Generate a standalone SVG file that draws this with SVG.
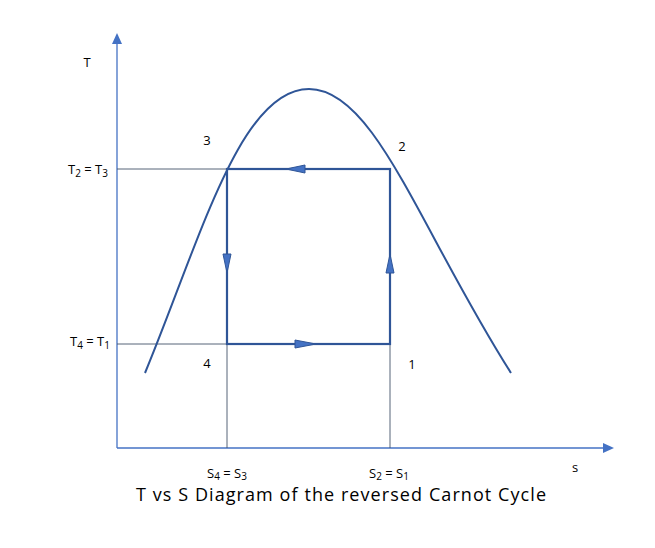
<svg xmlns="http://www.w3.org/2000/svg" width="655" height="548" viewBox="0 0 655 548">
<style>
.axis{stroke:#4472C4;stroke-width:1.3;fill:none}
.thin{stroke:#44546A;stroke-width:0.9;fill:none}
.cyc{stroke:#2F5597;stroke-width:2.2;fill:none}
.curve{stroke:#2F5597;stroke-width:2;fill:none}
.ah{fill:#4472C4;stroke:#2F5597;stroke-width:1}
text{font-family:"Open Sans","Liberation Sans",sans-serif;fill:#000}
.lbl{font-size:13px}
.sub{font-size:10px}
.title{font-size:18px}
</style>
<rect width="655" height="548" fill="#fff"/>
<g id="axes">
<line class="axis" x1="117" y1="448" x2="117" y2="42"/>
<polygon fill="#4472C4" points="112,44 117,33 122,44"/>
<line class="axis" x1="117" y1="448" x2="605" y2="448"/>
<polygon fill="#4472C4" points="603,443 614,448 603,453"/>
</g>
<g id="connectors">
<line class="thin" x1="117" y1="169" x2="227" y2="169"/>
<line class="thin" x1="117" y1="344" x2="227" y2="344"/>
<line class="thin" x1="227" y1="344" x2="227" y2="448"/>
<line class="thin" x1="390" y1="344" x2="390" y2="448"/>
</g>
<g id="dome">
<path class="curve" d="M145,373 C200,240 240,89 309,89 C375,89 420,230 511,373"/>
</g>
<g id="cycle">
<rect class="cyc" x="227" y="169" width="163" height="175"/>
<polygon class="ah" points="286,169 305,165 305,173"/>
<polygon class="ah" points="227,273 223,254 231,254"/>
<polygon class="ah" points="316,344 295,340 295,348"/>
<polygon class="ah" points="390,254 386,273 394,273"/>
</g>
<g id="labels">
<text class="lbl" x="87" y="67" text-anchor="middle">T</text>
<text class="lbl" x="207" y="145" text-anchor="middle">3</text>
<text class="lbl" x="402" y="151" text-anchor="middle">2</text>
<text class="lbl" x="207" y="368" text-anchor="middle">4</text>
<text class="lbl" x="412" y="369" text-anchor="middle">1</text>
<text class="lbl" x="575" y="472" text-anchor="middle">s</text>
<text class="lbl" x="108" y="174" text-anchor="end">T<tspan class="sub" dy="3">2</tspan><tspan dy="-3"> = T</tspan><tspan class="sub" dy="3">3</tspan></text>
<text class="lbl" x="110" y="346" text-anchor="end">T<tspan class="sub" dy="3">4</tspan><tspan dy="-3"> = T</tspan><tspan class="sub" dy="3">1</tspan></text>
<text class="lbl" x="227" y="478" text-anchor="middle">S<tspan class="sub" dy="2">4</tspan><tspan dy="-2"> = S</tspan><tspan class="sub" dy="2">3</tspan></text>
<text class="lbl" x="389" y="478" text-anchor="middle">S<tspan class="sub" dy="2">2</tspan><tspan dy="-2"> = S</tspan><tspan class="sub" dy="2">1</tspan></text>
<text class="title" x="341" y="501" text-anchor="middle" textLength="410">T vs S Diagram of the reversed  Carnot Cycle</text>
</g>
</svg>
